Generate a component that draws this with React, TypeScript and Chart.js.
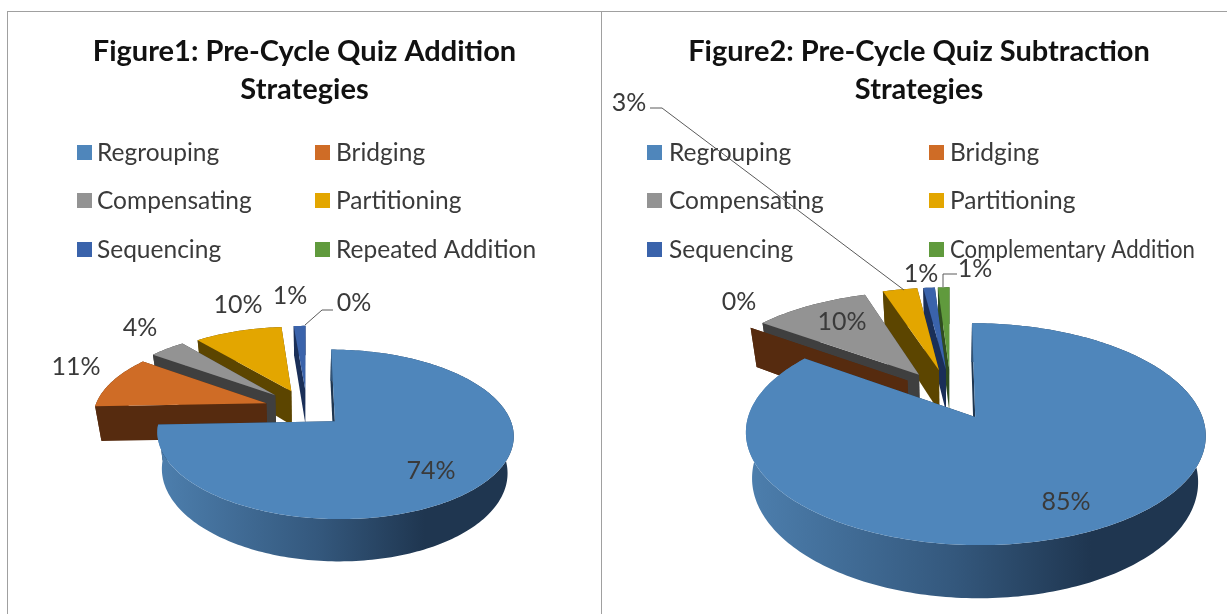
import React, { useEffect, useRef } from "react";
import { Chart, registerables } from "chart.js";

Chart.register(...registerables);

const additionLabels = ["Regrouping", "Bridging", "Compensating", "Partitioning", "Sequencing", "Repeated Addition"];
const additionValues = [74.4, 10.6, 4, 9.7, 1.3, 0];
const subtractionLabels = ["Regrouping", "Bridging", "Compensating", "Partitioning", "Sequencing", "Complementary Addition"];
const subtractionValues = [85, 0, 10, 3, 1, 1];
const title1 = ["Figure1: Pre-Cycle Quiz Addition", "Strategies"];
const title2 = ["Figure2: Pre-Cycle Quiz Subtraction", "Strategies"];

const sliceColors = ["#4f86bb", "#cf6c26", "#939393", "#e3a600", "#3a63ab", "#609a3d"];
const wallColors = ["#1f3650", "#562b0f", "#3f3f3f", "#5c4500", "#1a2f58", "#2f4d1f"];
const TEXT = "#3a3a3a";
const FONT = "Lato";

const geo1 = {
  originX: 8, originY: 12, width: 593, height: 602,
  cx: 307, cy: 409, R: 172, Rk: 79, D: 35, e: [0.22, 0.25, 0.26, 0.25, 0.25, 0.25], a: 0.15, taper: 0.97,
  legendX: [77, 315], legendTextX: [97, 336], legendY: [153, 201, 250],
  labelPos: [[431, 471], [76, 367], [140, 328], [238, 305], [290, 296], [354, 303]],
  leaders: [[[305, 325], [322, 310], [333, 310]]],
};
const geo2 = {
  originX: 603, originY: 12, width: 632, height: 602,
  cx: 951, cy: 395, R: 220, Rk: 101.6, D: 43.5, e: [0.235, 0.25, 0.255, 0.26, 0.26, 0.26], a: 0.15, taper: 0.97,
  legendX: [647, 929], legendTextX: [669, 950], legendY: [153, 201, 250],
  labelPos: [[1066, 502], [739, 302], [842, 322], [629, 103], [921, 274], [975, 269]],
  leaders: [
    [[650, 108], [662, 108], [904, 290]],
    [[943, 287], [943, 274], [957, 274]],
  ],
};

function makePlugin(g: any) {
  const project = (u: number, v: number) => {
    const p = 1 / (1 + g.a * v);
    return { x: g.cx + g.R * u * p, y: g.cy - g.Rk * v * p, p };
  };
  const bottom = (pt: any) => ({ x: g.cx + (pt.x - g.cx) * g.taper, y: pt.y + g.D * pt.p });

  return {
    id: "pie3d",
    beforeDatasetsDraw(chart: any) {
      const ctx = chart.ctx;
      const meta = chart.getDatasetMeta(0);
      ctx.save();
      ctx.translate(-g.originX, -g.originY);
      for (let i = meta.data.length - 1; i >= 0; i--) {
        const arc = meta.data[i];
        const t0 = arc.startAngle + Math.PI / 2;
        const t1 = arc.endAngle + Math.PI / 2;
        const mid = (t0 + t1) / 2;
        const ox = g.e[i] * Math.sin(mid);
        const oy = g.e[i] * Math.cos(mid);
        const apex = project(ox, oy);
        const steps = Math.max(2, Math.ceil((t1 - t0) / 0.02));
        const rim: any[] = [];
        for (let s = 0; s <= steps; s++) {
          const t = t0 + ((t1 - t0) * s) / steps;
          rim.push(project(ox + Math.sin(t), oy + Math.cos(t)));
        }
        const base = sliceColors[i];
        const wall = wallColors[i];
        // radial walls
        ctx.fillStyle = wall;
        for (const edge of [rim[rim.length - 1], rim[0]]) {
          const a2 = bottom(apex);
          const e2 = bottom(edge);
          ctx.beginPath();
          ctx.moveTo(apex.x, apex.y);
          ctx.lineTo(edge.x, edge.y);
          ctx.lineTo(e2.x, e2.y);
          ctx.lineTo(a2.x, a2.y);
          ctx.closePath();
          ctx.fill();
        }
        // outer wall
        const xs = rim.map((r) => r.x);
        const minX = Math.min(...xs);
        const maxX = Math.max(...xs);
        if (maxX - minX > 1) {
          const grad = ctx.createLinearGradient(minX, 0, maxX, 0);
          grad.addColorStop(0, i === 0 ? "#4d7fae" : wall);
          grad.addColorStop(0.45, i === 0 ? "#34587d" : wall);
          grad.addColorStop(0.75, wall);
          grad.addColorStop(1, wall);
          ctx.fillStyle = grad;
          ctx.beginPath();
          rim.forEach((r, k) => (k ? ctx.lineTo(r.x, r.y) : ctx.moveTo(r.x, r.y)));
          [...rim].reverse().forEach((r) => {
            const b = bottom(r);
            ctx.lineTo(b.x, b.y);
          });
          ctx.closePath();
          ctx.fill();
        }
        // top face
        ctx.fillStyle = base;
        ctx.beginPath();
        ctx.moveTo(apex.x, apex.y);
        rim.forEach((r) => ctx.lineTo(r.x, r.y));
        ctx.closePath();
        ctx.fill();
      }
      ctx.restore();
      return false;
    },
    afterDraw(chart: any) {
      const ctx = chart.ctx;
      const values = chart.data.datasets[0].data;
      ctx.save();
      ctx.translate(-g.originX, -g.originY);
      // legend
      ctx.font = `24.5px ${FONT}`;
      ctx.textBaseline = "middle";
      ctx.textAlign = "left";
      chart.data.labels.forEach((label: string, i: number) => {
        const col = i % 2;
        const row = Math.floor(i / 2);
        ctx.fillStyle = sliceColors[i];
        ctx.fillRect(g.legendX[col], g.legendY[row] - 8, 15, 15);
        ctx.fillStyle = TEXT;
        const tw = ctx.measureText(label).width;
        ctx.fillText(label, g.legendTextX[col], g.legendY[row], Math.min(tw, 245));
      });
      // leaders
      ctx.strokeStyle = "#5a5a5a";
      ctx.lineWidth = 1;
      g.leaders.forEach((pts: number[][]) => {
        ctx.beginPath();
        pts.forEach((p, k) => (k ? ctx.lineTo(p[0], p[1]) : ctx.moveTo(p[0], p[1])));
        ctx.stroke();
      });
      // data labels
      ctx.font = `25px ${FONT}`;
      ctx.textAlign = "center";
      ctx.fillStyle = TEXT;
      values.forEach((v: number, i: number) => {
        ctx.fillText(`${Math.round(v)}%`, g.labelPos[i][0], g.labelPos[i][1]);
      });
      ctx.restore();
    },
  };
}

function Pie({ labels, values, title, geo }: any) {
  const ref = useRef<HTMLCanvasElement>(null);
  useEffect(() => {
    const chart = new Chart(ref.current as any, {
      type: "pie",
      data: {
        labels,
        datasets: [{ data: values, backgroundColor: sliceColors, borderWidth: 0 }],
      },
      options: {
        responsive: false,
        animation: false,
        layout: { padding: 0 },
        plugins: {
          legend: { display: false },
          tooltip: { enabled: false },
          title: {
            display: true,
            text: title,
            color: "#111111",
            font: { family: FONT, size: 29, weight: "bold", lineHeight: 1.31 },
            padding: { top: 21, bottom: 0 },
          },
        },
      } as any,
      plugins: [makePlugin(geo)],
    });
    return () => chart.destroy();
  }, []);
  return (
    <canvas
      ref={ref}
      width={geo.width}
      height={geo.height}
      style={{ position: "absolute", left: geo.originX, top: geo.originY, width: geo.width, height: geo.height }}
    />
  );
}

export default function App() {
  return (
    <div style={{ position: "fixed", left: 0, top: 0, width: 1227, height: 614, overflow: "hidden", background: "#fff" }}>
      <div style={{ position: "absolute", left: 7, top: 11, width: 1300, height: 1, background: "#a0a0a0" }} />
      <div style={{ position: "absolute", left: 7, top: 11, width: 1, height: 603, background: "#a0a0a0" }} />
      <div style={{ position: "absolute", left: 601, top: 11, width: 1, height: 603, background: "#a0a0a0" }} />
      <Pie labels={additionLabels} values={additionValues} title={title1} geo={geo1} />
      <Pie labels={subtractionLabels} values={subtractionValues} title={title2} geo={geo2} />
    </div>
  );
}
